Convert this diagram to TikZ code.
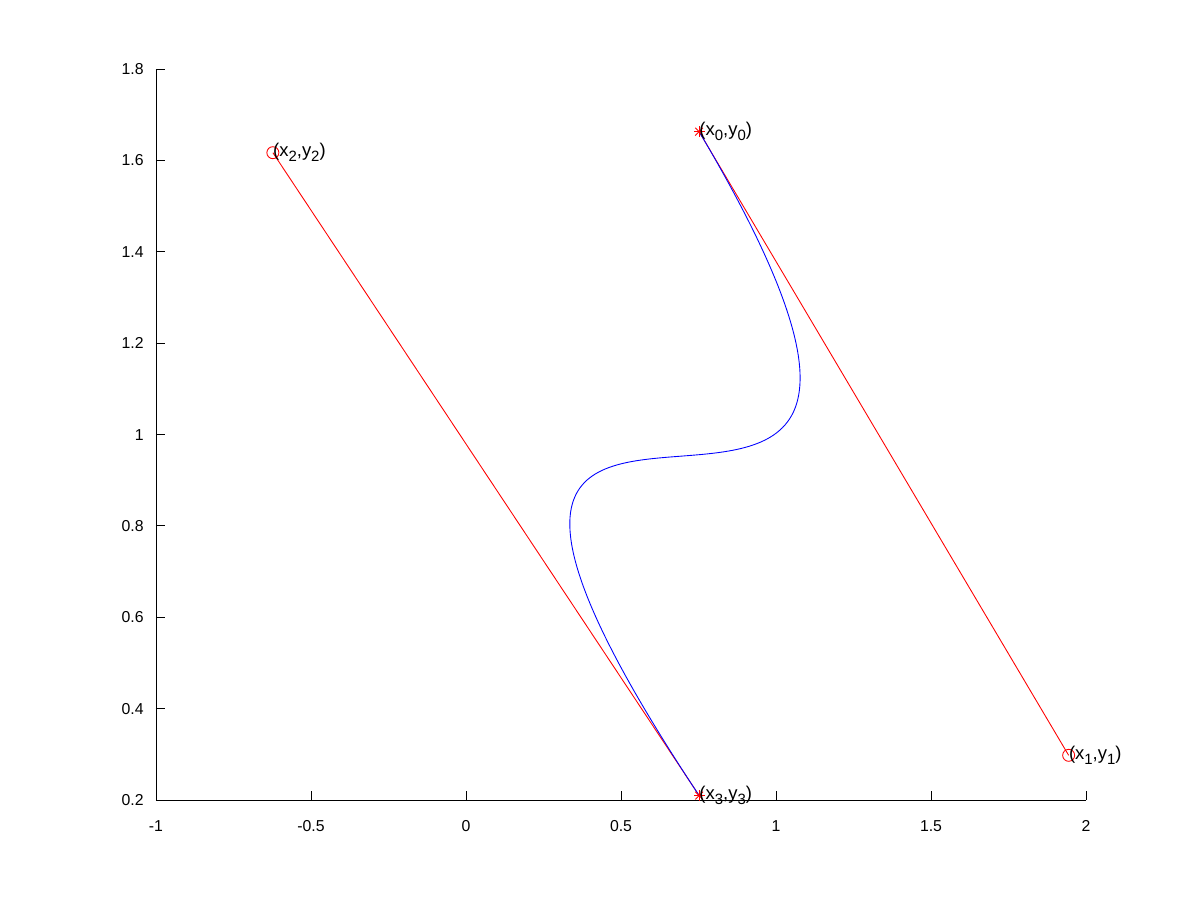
\documentclass[tikz,border=0pt]{standalone}
\usepackage{fontspec}
\setmainfont{Liberation Sans}
\usetikzlibrary{positioning}

\newcommand{\lowidx}[1]{\raisebox{-0.5ex}{\fontsize{8.5}{9}\selectfont #1}}

\begin{document}
\begin{tikzpicture}[x=6.2cm,y=9.1375cm,font=\fontsize{9}{10}\selectfont,
  axis/.style={black,line width=0.55pt},
  ctrl/.style={red,line width=0.5pt},
  curve/.style={blue,line width=0.5pt},
  ring/.style={circle,draw=red,line width=0.5pt,minimum size=0.24cm,inner sep=0pt},
  lbl/.style={anchor=west,inner sep=0pt,font=\fontsize{10.5}{12}\selectfont}]

  \useasboundingbox (-1.5032,-0.0188) rectangle (2.3677,1.9512);

  % axes
  \coordinate (O)  at (-1,0.2);
  \coordinate (XE) at (2,0.2);
  \coordinate (YE) at (-1,1.8);
  \draw[axis] (YE) -- (O) -- (XE);

  \foreach \x/\t [count=\i] in {-1/-1,-0.5/-0.5,0/0,0.5/0.5,1/1,1.5/1.5,2/2} {
    \draw[axis] (\x,0.2) -- ++(0,0.18cm);
    \node (xt\i) at ([yshift=-0.52cm]\x,0.2) {\t};
  }
  \foreach \y/\t [count=\i] in {0.2/0.2,0.4/0.4,0.6/0.6,0.8/0.8,1/1,1.2/1.2,1.4/1.4,1.6/1.6,1.8/1.8} {
    \draw[axis] (-1,\y) -- ++(0.18cm,0);
    \node[anchor=east,inner sep=0pt] (yt\i) at ([xshift=-0.24cm]-1,\y) {\t};
  }

  % control points
  \coordinate (P0) at (0.752,1.663);
  \coordinate (P1) at (1.944,0.298);
  \coordinate (P2) at (-0.623,1.617);
  \coordinate (P3) at (0.752,0.210);

  \draw[ctrl] (P0) -- (P1);
  \draw[ctrl] (P2) -- (P3);
  \draw[curve] (P0) .. controls (P1) and (P2) .. (P3);

  \node[ring] (M1) at (P1) {};
  \node[ring] (M2) at (P2) {};
  \foreach \p in {P0,P3}
    \foreach \a in {0,45,...,315}
      \draw[ctrl] (\p) -- ++(\a:0.11cm);

  \node[lbl] (L0) at (P0) {(x\lowidx{0},y\lowidx{0})};
  \node[lbl] (L1) at (P1) {(x\lowidx{1},y\lowidx{1})};
  \node[lbl] (L2) at (P2) {(x\lowidx{2},y\lowidx{2})};
  \node[lbl] (L3) at (P3) {(x\lowidx{3},y\lowidx{3})};
\end{tikzpicture}
\end{document}
